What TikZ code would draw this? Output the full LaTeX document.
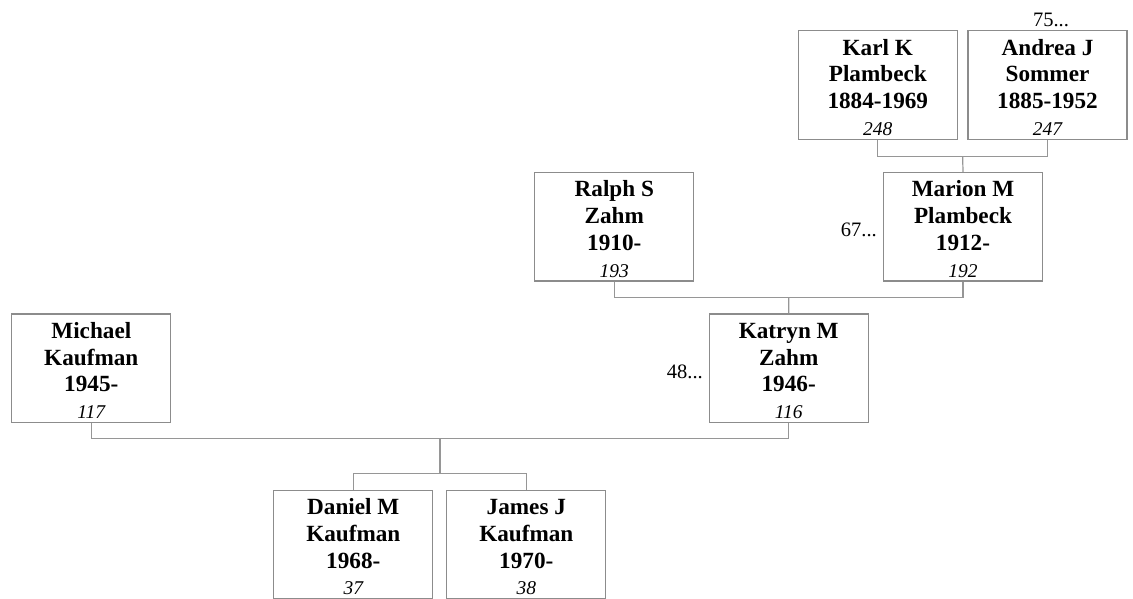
\documentclass[tikz,border=0pt]{standalone}
\usepackage{fontspec}
\setmainfont{Liberation Serif}
\usetikzlibrary{calc}
\definecolor{boxgray}{RGB}{140,140,140}
\definecolor{linegray}{RGB}{150,150,150}
\tikzset{
  person/.style={draw=boxgray, line width=1.2pt, rectangle, minimum width=159pt, minimum height=108pt,
    inner sep=0pt, align=center, font=\fontsize{23.2}{26.7}\selectfont\bfseries},
  conn/.style={draw=linegray, line width=1.2pt},
  more/.style={inner sep=0pt, font=\fontsize{20.5}{24}\selectfont}
}
\newcommand{\numline}[1]{{\fontsize{19.5}{26.7}\selectfont\mdseries\itshape #1\rule[-4pt]{0pt}{4pt}}}
\newcommand{\topstrut}{\rule{0pt}{24.4pt}}
\begin{document}
\begin{tikzpicture}[x=1pt,y=-1pt]
\useasboundingbox (0,0) rectangle (1133,599);
\node[person] (karl) at (877.8,85) {\topstrut Karl K\\Plambeck\\1884-1969\\\numline{248}};
\node[person] (andrea) at (1047.5,85) {\topstrut Andrea J\\Sommer\\1885-1952\\\numline{247}};
\node[person] (ralph) at (614.3,226.8) {\topstrut Ralph S\\Zahm\\1910-\\\numline{193}};
\node[person] (marion) at (963,226.8) {\topstrut Marion M\\Plambeck\\1912-\\\numline{192}};
\node[person] (michael) at (91.3,368.2) {\topstrut Michael\\Kaufman\\1945-\\\numline{117}};
\node[person] (katryn) at (788.7,368.2) {\topstrut Katryn M\\Zahm\\1946-\\\numline{116}};
\node[person] (daniel) at (353.3,544.5) {\topstrut Daniel M\\Kaufman\\1968-\\\numline{37}};
\node[person] (james) at (526.3,544.5) {\topstrut James J\\Kaufman\\1970-\\\numline{38}};
\node[more, anchor=base] (andreamore) at (1051,26.7) {75...};
\node[more, anchor=base east] (marionmore) at (877,236) {67...};
\node[more, anchor=base east] (katrynmore) at (703,378) {48...};
% couple lines
\draw[conn] (karl.south) -- ++(0,16.3) -| (andrea.south);
\coordinate (kam) at ($(karl.south)!0.5!(andrea.south)+(0,16.3)$);
\draw[conn] (kam) -- (marion.north);
\draw[conn] (ralph.south) -- ++(0,15.5) -| (marion.south);
\coordinate (rmm) at ($(ralph.south)!0.5!(marion.south)+(0,15.5)$);
\draw[conn] (rmm) -- (katryn.north);
\draw[conn] (michael.south) -- ++(0,15.8) -| (katryn.south);
\coordinate (mkm) at ($(michael.south)!0.5!(katryn.south)+(0,15.8)$);
\coordinate (kids) at ($(daniel.north)!0.5!(james.north)+(0,-16)$);
\draw[conn] (mkm) -- (mkm |- kids);
\draw[conn] (daniel.north) |- (kids) -| (james.north);
\end{tikzpicture}
\end{document}
